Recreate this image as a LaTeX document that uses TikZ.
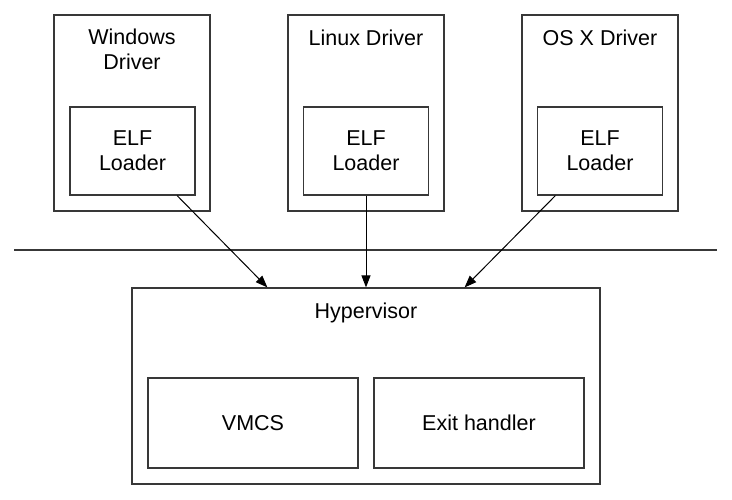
\documentclass[tikz,border=0pt]{standalone}
\usepackage{fontspec}
\setmainfont{Liberation Sans}
\usetikzlibrary{arrows.meta}
\tikzset{
  box/.style={draw=black!78, line width=1.2pt, inner sep=0pt},
  drv/.style={box, minimum width=156pt, minimum height=196pt},
  elf/.style={box, minimum width=125pt, minimum height=88pt, align=center},
  part/.style={box, minimum width=210pt, minimum height=90pt},
  title/.style={inner sep=0pt, align=center}
}
\begin{document}
\begin{tikzpicture}[x=1pt, y=-1pt, font=\fontsize{21.5}{25}\selectfont]
  \useasboundingbox (0,0) rectangle (732,499);
  \draw
    (132,113) node[drv] (wd){}
    (366,113) node[drv] (ld){}
    (600,113) node[drv] (od){}
    (132,49) node[title] (wt){Windows\\Driver}
    (366,45) node[title, anchor=base] (lt){Linux Driver}
    (600,45) node[title, anchor=base] (ot){OS X Driver}
    (132.5,151) node[elf] (wl){ELF\\Loader}
    (366,151) node[elf] (ll){ELF\\Loader}
    (600,151) node[elf] (ol){ELF\\Loader};
  \coordinate (sepl) at (14,250);
  \coordinate (sepr) at (717,250);
  \draw[line width=1.2pt, black!78] (sepl) -- (sepr);
  \draw
    (366,386) node[box, minimum width=468pt, minimum height=196pt] (hv){}
    (366,318) node[title, anchor=base] (ht){Hypervisor}
    (253,423) node[part] (vm){VMCS}
    (479,423) node[part] (ex){Exit handler};
  \begin{scope}[-{Triangle[length=12pt, width=9pt]}, line width=1pt]
    \draw (wl.-45) to (hv.135);
    \draw (ll.south) to (hv.north);
    \draw (ol.-135) to (hv.45);
  \end{scope}
\end{tikzpicture}
\end{document}
